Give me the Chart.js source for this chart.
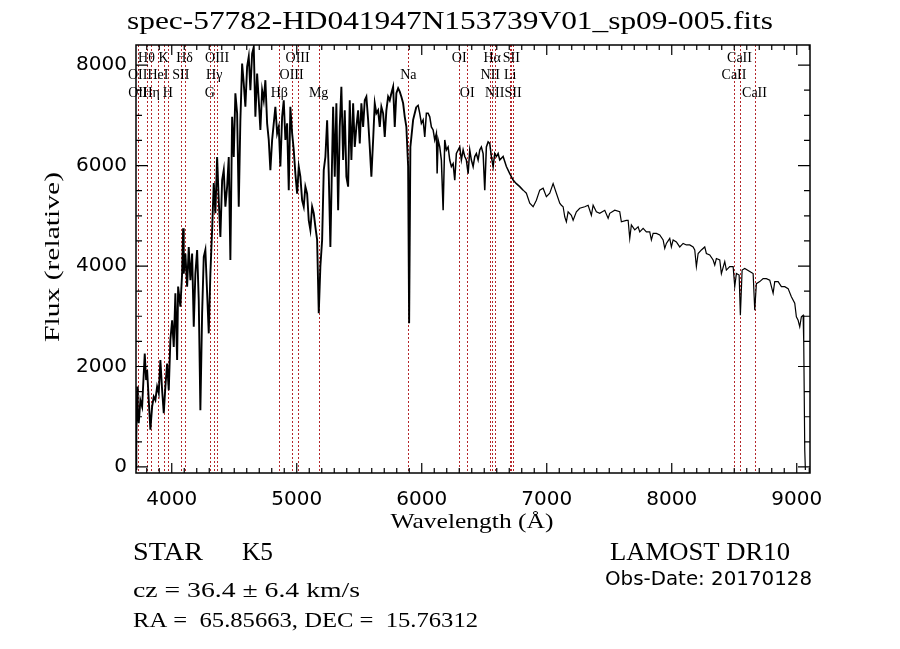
<!DOCTYPE html>
<html>
<head>
<meta charset="utf-8">
<title>spec-57782-HD041947N153739V01_sp09-005.fits</title>
<script src="https://cdn.jsdelivr.net/npm/chart.js@4.4.0/dist/chart.umd.min.js"></script>
<style>
  html, body { margin: 0; padding: 0; background: #fff; }
  #chart { display: block; }
</style>
</head>
<body>
<canvas id="chart" width="900" height="649"></canvas>
<script>
// Spectrum: wavelength (Angstrom) and relative flux
const wavelength = [
  3714, 3715, 3718, 3724, 3728, 3736, 3749, 3763, 3776, 3784,
  3795, 3803, 3816, 3829, 3843, 3856, 3869, 3883, 3896, 3909,
  3923, 3936, 3949, 3963, 3976, 3989, 4003, 4016, 4029, 4043,
  4051, 4069, 4083, 4091, 4096, 4109, 4123, 4136, 4149, 4163,
  4176, 4189, 4203, 4216, 4229, 4243, 4256, 4269, 4283, 4296,
  4309, 4323, 4336, 4349, 4363, 4376, 4389, 4403, 4416, 4429,
  4443, 4456, 4469, 4483, 4496, 4509, 4523, 4536, 4549, 4563,
  4576, 4589, 4603, 4616, 4629, 4643, 4656, 4669, 4683, 4696,
  4709, 4723, 4736, 4749, 4763, 4776, 4789, 4803, 4816, 4829,
  4843, 4856, 4869, 4883, 4896, 4909, 4923, 4936, 4949, 4963,
  4976, 4989, 5003, 5016, 5029, 5043, 5056, 5069, 5083, 5096,
  5109, 5123, 5136, 5149, 5163, 5176, 5189, 5203, 5216, 5229,
  5243, 5256, 5269,
  5291, 5304, 5317, 5331, 5344, 5357, 5371, 5384, 5397, 5411,
  5424, 5437, 5451, 5464, 5477, 5491, 5504, 5517, 5531, 5544,
  5557, 5571, 5584, 5597, 5611, 5624, 5637, 5651, 5664, 5677,
  5691, 5704, 5717, 5731, 5744, 5757, 5771, 5784, 5797, 5811,
  5824, 5837, 5851, 5864, 5877, 5891, 5899, 5909, 5931, 5944,
  5957, 5971, 5984, 5997, 6011, 6024, 6037, 6051, 6064, 6077,
  6091, 6104, 6117, 6123, 6131, 6144, 6157, 6171, 6184, 6197,
  6211, 6224, 6237, 6251, 6264, 6277, 6291, 6304, 6317, 6331,
  6344, 6357, 6371, 6384, 6397, 6411, 6424, 6437, 6451, 6464,
  6477, 6491, 6504, 6517, 6531, 6544, 6557, 6571, 6584, 6597,
  6611, 6624, 6651, 6677, 6704, 6731, 6757, 6784, 6811, 6837,
  6864, 6891, 6917, 6944, 6971, 6997, 7024, 7051, 7077, 7104,
  7117, 7131, 7144, 7157, 7171, 7197, 7211, 7237, 7264, 7304,
  7331, 7357, 7371, 7397, 7424, 7464, 7491, 7504, 7544, 7584,
  7597, 7637, 7651, 7664, 7677, 7704, 7731, 7744, 7771, 7797,
  7824, 7837, 7851, 7877, 7904, 7931, 7944, 7957, 7984, 7997,
  8011, 8037, 8064, 8091, 8117, 8144, 8171, 8184, 8197, 8211,
  8237, 8264, 8277, 8304, 8331, 8344, 8357, 8384, 8397, 8424,
  8437, 8464, 8491, 8504, 8517, 8539, 8549, 8563, 8584, 8624,
  8651, 8664, 8677, 8704, 8731, 8757, 8784, 8811, 8824, 8851,
  8877, 8904, 8931, 8957, 8984, 8997, 9011, 9024, 9037, 9051,
  9056, 9064, 9069
];

const flux = [
  900, -60, 600, 1600, 1070, 870, 1330, 1200, 1860, 2260,
  1730, 1930, 1330, 740, 1200, 1400, 1330, 1600, 1470, 2130,
  1530, 1070, 1600, 2060, 1530, 2530, 2920, 2390, 3460, 2130,
  3590, 3190, 3850, 4750, 3850, 4250, 3590, 4380, 3720, 4250,
  2790, 3850, 4320, 3320, 1130, 3060, 4180, 4320, 3460, 2660,
  3850, 4720, 5650, 5050, 6170, 5310, 4580, 5710, 5910, 5180,
  5580, 6170, 4120, 6970, 6170, 7440, 7040, 5180, 6900, 8030,
  7630, 7170, 7970, 8170, 7500, 8230, 8360, 6970, 7830, 7300,
  6710, 7500, 7300, 7700, 6840, 6510, 5910, 6510, 6840, 7170,
  6640, 6770, 5980, 6970, 7300, 6510, 6840, 5510, 7170, 6640,
  6310, 5840, 5440, 5980, 5780, 5310, 5180, 5580, 5440, 4910,
  4720, 5180, 5050, 4780, 4520, 3060, 3990, 4520, 5910, 6170,
  6900, 5840, 4380,
  7170, 5780, 7240, 5110, 6770, 7570, 6110, 7100, 5780, 5580,
  7300, 6110, 7240, 6370, 6770, 7100, 6440, 7240, 6770, 7300,
  7370, 6910, 6370, 5780, 6510, 7240, 7040, 7100, 6770, 7170,
  7040, 6570, 7100, 7370, 7300, 7440, 7570, 6770, 7440, 7540,
  7470, 7370, 7240, 6970, 6770, 5980, 2860, 6370, 6910, 7040,
  7170, 7200, 7040, 6840, 6910, 6570, 7040, 7040, 6970, 6770,
  6710, 6510, 6640, 5840, 6510, 6370, 6110, 5110, 6510, 6310,
  6370, 6110, 5980, 6040, 5710, 6240, 6310, 6370, 6110, 6310,
  6180, 6110, 5840, 6310, 6110, 5980, 6180, 6240, 6110, 6310,
  6370, 6240, 5510, 6370, 6470, 6440, 6180, 5980, 6240, 6180,
  6240, 6110, 6180, 5980, 5840, 5710, 5640, 5580, 5510, 5450,
  5250, 5180, 5310, 5510, 5550, 5380, 5450, 5640, 5450, 5250,
  5210, 5180, 4980, 4880, 5080, 5010, 4910, 5080, 5150, 5180,
  5210, 5010, 5210, 5080, 5050, 5110, 4950, 5050, 5110, 5080,
  4880, 4910, 4910, 4550, 4820, 4720, 4780, 4680, 4750, 4680,
  4680, 4520, 4650, 4650, 4620, 4520, 4350, 4450, 4550, 4380,
  4520, 4480, 4380, 4450, 4420, 4420, 4380, 4320, 3990, 4250,
  4320, 4380, 4250, 4220, 4120, 4020, 4150, 4120, 3850, 4090,
  3920, 3990, 3990, 3590, 3850, 3820, 3020, 3920, 3950, 3890,
  3850, 3120, 3650, 3690, 3750, 3750, 3720, 3460, 3690, 3690,
  3590, 3590, 3550, 3390, 3260, 2990, 2920, 2790, 2990, 3020,
  2460, 340, -60
];

// Marked spectral lines and the label row each name sits in
const lineWave = [3727, 3729, 3798, 3835, 3889, 3934, 3968, 4072, 4102, 4304,
                  4340, 4363, 4861, 4959, 5007, 5175, 5893, 6300, 6364, 6548,
                  6563, 6583, 6708, 6716, 6731, 8498, 8542, 8662];
const lineName = ['OII', 'OII', 'Hθ', 'Hη', 'HeI', 'K', 'H', 'SII', 'Hδ', 'G',
                  'Hγ', 'OIII', 'Hβ', 'OIII', 'OIII', 'Mg', 'Na', 'OI', 'OI', 'NII',
                  'Hα', 'NII', 'Li', 'SII', 'SII', 'CaII', 'CaII', 'CaII'];
const lineRow = [2, 3, 1, 3, 2, 1, 3, 2, 1, 3,
                 2, 1, 3, 2, 1, 3, 2, 1, 3, 2,
                 1, 3, 2, 1, 3, 2, 1, 3];

const xTicks = [4000, 5000, 6000, 7000, 8000, 9000];
const yTicks = [0, 2000, 4000, 6000, 8000];

const titleText = 'spec-57782-HD041947N153739V01_sp09-005.fits';
const xTitle = 'Wavelength (Å)';
const yTitle = 'Flux (relative)';

const lineRed = '#b5262a';
const serif = '"Liberation Serif", "DejaVu Serif", serif';
const sans = '"DejaVu Sans", sans-serif';

// draw text squeezed or stretched to a given width
function fitText(ctx, text, x, y, width, font, align) {
    ctx.save();
    ctx.font = font;
    ctx.textAlign = 'left';
    ctx.textBaseline = 'alphabetic';
    const w = ctx.measureText(text).width;
    ctx.translate(x, y);
    ctx.scale(width / w, 1);
    ctx.fillText(text, align === 'center' ? -w / 2 : 0, 0);
    ctx.restore();
}

// the blue end is sampled far more densely than these readings, so draw it heavier
function lineWidthAt(ctx) {
    const w = ctx.p0.parsed.x;
    if (w < 5950) return 1.9;
    if (w < 6800) return 1.5;
    return 1.2;
}

const annotate = {
    id: 'annotate',
    beforeDatasetsDraw(chart) {
        const { ctx, chartArea: a, scales: { x } } = chart;
        ctx.save();
        ctx.strokeStyle = lineRed;
        ctx.lineWidth = 1;
        ctx.setLineDash([2, 2]);
        lineWave.forEach(w => {
            const px = Math.round(x.getPixelForValue(w)) + 0.5;
            ctx.beginPath();
            ctx.moveTo(px, a.top);
            ctx.lineTo(px, a.bottom);
            ctx.stroke();
        });
        ctx.restore();
    },
    afterDraw(chart) {
        const { ctx, chartArea: a, scales: { x, y } } = chart;
        ctx.save();
        ctx.fillStyle = '#000';
        ctx.strokeStyle = '#000';

        // frame and inward ticks on all four sides
        ctx.lineWidth = 1.5;
        ctx.strokeRect(a.left, a.top, a.right - a.left, a.bottom - a.top);
        ctx.lineWidth = 1.2;
        ctx.beginPath();
        for (let v = Math.ceil(x.min / 100) * 100; v <= x.max; v += 100) {
            const px = x.getPixelForValue(v);
            const len = v % 1000 === 0 ? 10 : 5;
            ctx.moveTo(px, a.bottom); ctx.lineTo(px, a.bottom - len);
            ctx.moveTo(px, a.top); ctx.lineTo(px, a.top + len);
        }
        for (let v = 0; v <= y.max; v += 500) {
            const py = y.getPixelForValue(v);
            const len = v % 2000 === 0 ? 12 : 6;
            ctx.moveTo(a.left, py); ctx.lineTo(a.left + len, py);
            ctx.moveTo(a.right, py); ctx.lineTo(a.right - len, py);
        }
        ctx.stroke();

        // line names in three rows
        ctx.font = '14px ' + serif;
        ctx.textAlign = 'center';
        ctx.textBaseline = 'alphabetic';
        const rowY = [0, 16.5, 34, 51.5];
        lineWave.forEach((w, i) => {
            ctx.fillText(lineName[i], x.getPixelForValue(w), a.top + rowY[lineRow[i]]);
        });

        // title and axis titles
        fitText(ctx, titleText, 450, 28.5, 646, '25px ' + serif, 'center');
        fitText(ctx, xTitle, 472, 528, 163, '21px ' + serif, 'center');
        ctx.save();
        ctx.translate(59, 257);
        ctx.rotate(-Math.PI / 2);
        fitText(ctx, yTitle, 0, 0, 170, '21px ' + serif, 'center');
        ctx.restore();

        // object information below the plot
        fitText(ctx, 'STAR', 133, 560, 70, '26px ' + serif);
        fitText(ctx, 'K5', 242, 560, 31, '26px ' + serif);
        fitText(ctx, 'cz = 36.4 ± 6.4 km/s', 133, 597, 227, '22px ' + serif);
        fitText(ctx, 'RA =  65.85663, DEC =  15.76312', 133, 627, 345, '22px ' + serif);
        fitText(ctx, 'LAMOST DR10', 610, 560, 180, '26px ' + serif);
        fitText(ctx, 'Obs-Date: 20170128', 605, 585, 207, '19px ' + sans);
        ctx.restore();
    }
};

const ctx = document.getElementById('chart').getContext('2d');
new Chart(ctx, {
    type: 'line',
    data: {
        datasets: [{
            data: wavelength.map((w, i) => ({ x: w, y: flux[i] })),
            borderColor: '#000',
            borderWidth: 1.2,
            segment: { borderWidth: lineWidthAt },
            pointRadius: 0,
            tension: 0,
            fill: false
        }]
    },
    options: {
        responsive: false,
        animation: false,
        devicePixelRatio: 1,
        layout: { padding: { top: 45, right: 90, left: 0, bottom: 0 } },
        plugins: { legend: { display: false }, tooltip: { enabled: false } },
        scales: {
            x: {
                type: 'linear',
                min: 3714,
                max: 9106,
                afterBuildTicks: s => { s.ticks = xTicks.map(v => ({ value: v })); },
                afterFit: s => { s.height = 176; },
                grid: { display: false, drawTicks: false },
                border: { display: false },
                ticks: {
                    color: '#000',
                    font: { family: 'DejaVu Sans', size: 20 },
                    padding: 15,
                    maxRotation: 0,
                    autoSkip: false,
                    callback: v => String(v)
                }
            },
            y: {
                type: 'linear',
                min: -120,
                max: 8400,
                afterBuildTicks: s => { s.ticks = yTicks.map(v => ({ value: v })); },
                afterFit: s => { s.width = 136; },
                grid: { display: false, drawTicks: false },
                border: { display: false },
                ticks: {
                    color: '#000',
                    font: { family: 'DejaVu Sans', size: 20 },
                    padding: 9,
                    autoSkip: false,
                    callback: v => String(v)
                }
            }
        }
    },
    plugins: [annotate]
});
</script>
</body>
</html>
